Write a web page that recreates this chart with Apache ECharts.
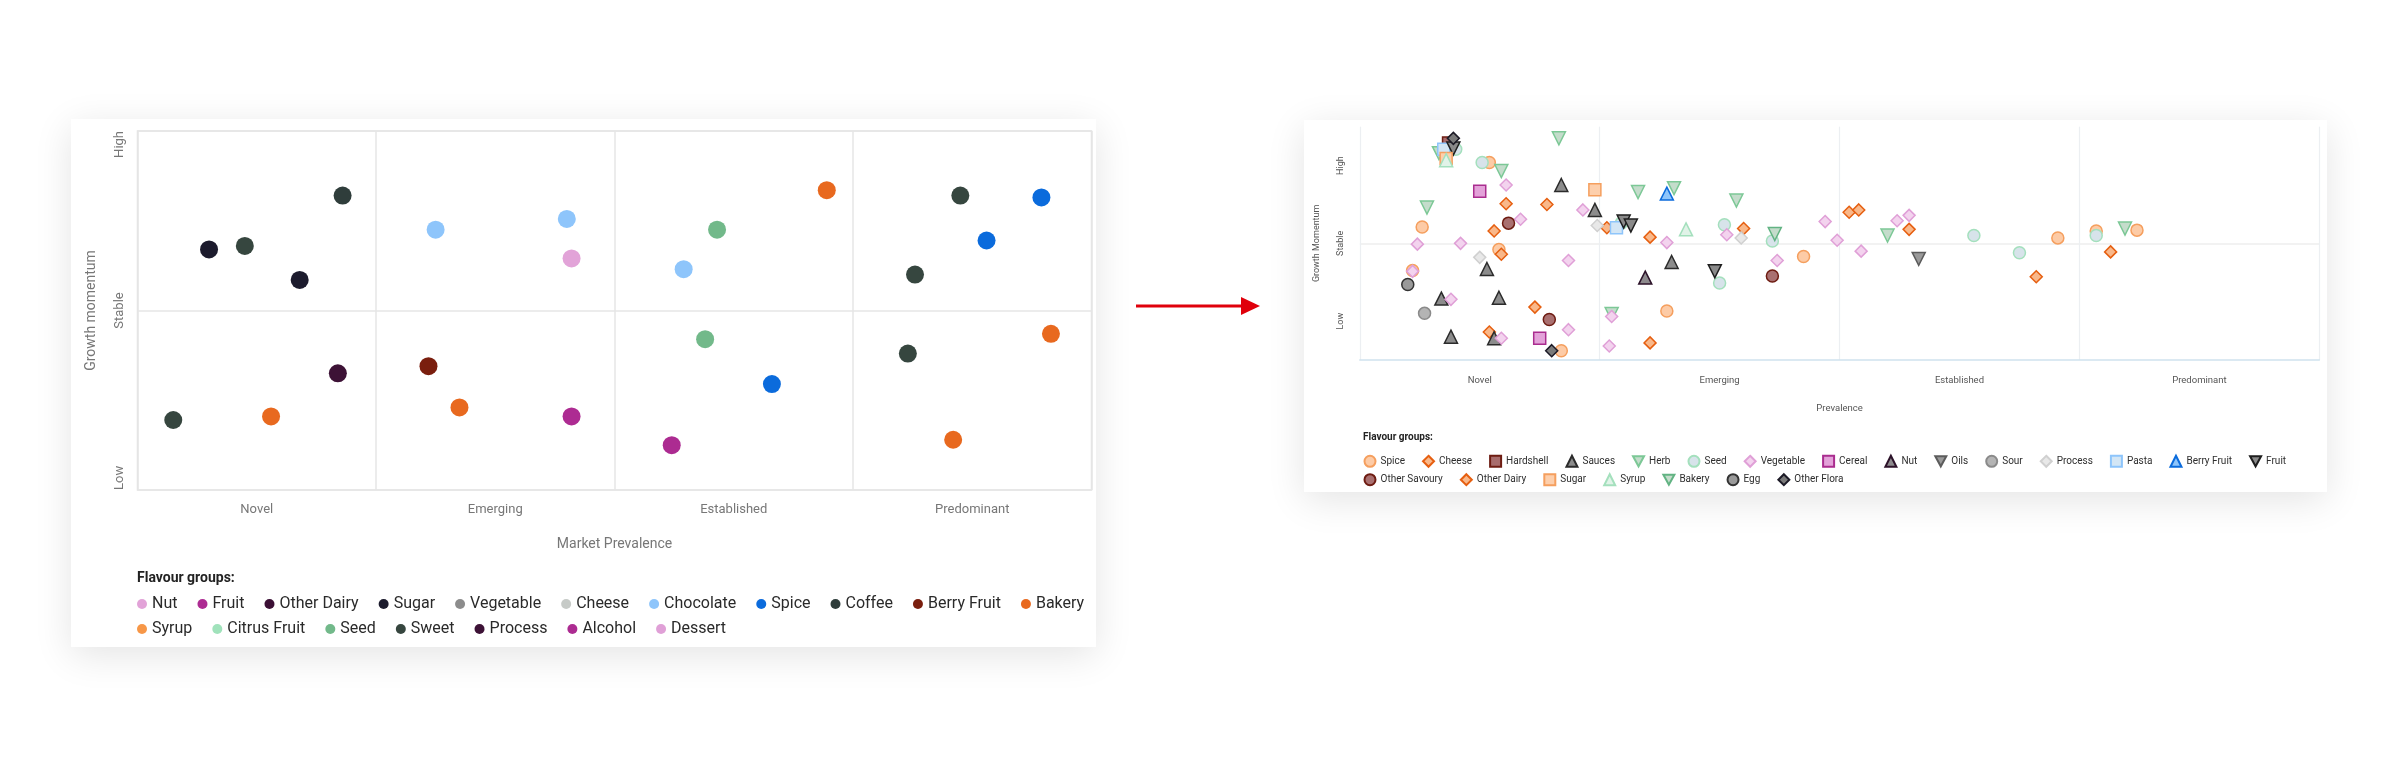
<!DOCTYPE html>
<html><head><meta charset="utf-8">
<script src="https://cdn.jsdelivr.net/npm/echarts@6/dist/echarts.min.js"></script>
<style>
html,body{margin:0;padding:0;background:#fff;width:2400px;height:768px;overflow:hidden;}
.card{position:absolute;background:#fff;box-shadow:0 8px 36px rgba(0,0,0,0.11);}
#cardL{left:71px;top:119px;width:1025px;height:528px;}
#cardR{left:1304px;top:120px;width:1023px;height:372px;}
#arrow{position:absolute;left:1130px;top:290px;}
</style></head><body>
<div id="cardL" class="card"></div>
<div id="cardR" class="card"></div>
<svg id="arrow" width="140" height="32"><line x1="6" y1="16" x2="114" y2="16" stroke="#e0000b" stroke-width="3"/><polygon points="111,7 130,16 111,25" fill="#e0000b"/></svg>
<script>
// ---------- shared tick labels ----------
const prevalenceCats = ['Novel','Emerging','Established','Predominant'];
const momentumTicks = ['Low','Stable','High'];

// ---------- LEFT chart data ----------
const leftGroups = ['Nut','Fruit','Other Dairy','Sugar','Vegetable','Cheese','Chocolate','Spice','Coffee','Berry Fruit','Bakery',
                    'Syrup','Citrus Fruit','Seed','Sweet','Process','Alcohol','Dessert'];
const leftLegendRow1 = leftGroups.slice(0, 11);
const leftLegendRow2 = leftGroups.slice(11);
const leftPtGroup = ['Coffee','Sugar','Sweet','Sugar','Process','Sweet','Bakery','Chocolate','Chocolate','Nut','Berry Fruit','Bakery','Fruit',
                     'Bakery','Seed','Chocolate','Sweet','Spice','Spice','Sweet','Seed','Spice','Alcohol','Sweet','Bakery','Bakery'];
const leftPtX = [0.86,0.30,0.45,0.68,0.84,0.15,0.56,1.25,1.80,1.82,1.22,1.35,1.82,
                 2.89,2.43,2.29,3.45,3.79,3.56,3.26,2.38,2.66,2.24,3.23,3.83,3.42];
const leftPtY = [1.64,1.34,1.36,1.17,0.65,0.39,0.41,1.45,1.51,1.29,0.69,0.46,0.41,
                 1.67,1.45,1.23,1.64,1.63,1.39,1.20,0.84,0.59,0.25,0.76,0.87,0.28];

// ---------- RIGHT chart data ----------
const rightGroups = ['Spice','Cheese','Hardshell','Sauces','Herb','Seed','Vegetable','Cereal','Nut','Oils','Sour','Process','Pasta','Berry Fruit','Fruit',
                     'Other Savoury','Other Dairy','Sugar','Syrup','Bakery','Egg','Other Flora'];
const rightLegendRow1 = rightGroups.slice(0, 15);
const rightLegendRow2 = rightGroups.slice(15);
const rightPtGroup = ['Other Flora','Hardshell','Fruit','Seed','Pasta','Herb','Sugar','Syrup','Herb','Seed',
  'Spice','Herb','Vegetable','Cereal','Sauces','Sugar','Herb','Berry Fruit','Herb','Herb',
  'Cheese','Cheese','Vegetable','Sauces','Other Savoury','Vegetable','Spice','Cheese','Process','Cheese',
  'Pasta','Fruit','Fruit','Seed','Syrup','Seed','Cheese','Vegetable','Process','Herb',
  'Bakery','Seed','Cheese','Vegetable','Vegetable','Vegetable','Spice','Cheese','Process','Vegetable',
  'Sauces','Spice','Vegetable','Egg','Sauces','Vegetable','Sauces','Sour','Other Dairy','Other Savoury',
  'Cheese','Sauces','Sauces','Vegetable','Cereal','Vegetable','Other Flora','Spice','Sauces','Nut',
  'Fruit','Seed','Other Savoury','Vegetable','Spice','Herb','Vegetable','Spice','Vegetable','Other Dairy',
  'Vegetable','Vegetable','Cheese','Cheese','Vegetable','Herb','Vegetable','Vegetable','Cheese','Oils',
  'Seed','Seed','Other Dairy','Spice','Spice','Seed','Herb','Spice','Cheese'];
const rightPtX = [0.39,0.37,0.39,0.40,0.35,0.33,0.36,0.36,0.83,0.51,
  0.54,0.59,0.61,0.50,0.84,0.98,1.16,1.28,1.31,0.28,
  0.61,0.78,0.93,0.98,0.62,0.67,0.26,0.56,0.99,1.03,
  1.07,1.10,1.13,1.09,1.36,1.52,1.60,1.53,1.59,1.57,
  1.73,1.72,1.21,1.28,0.24,0.42,0.58,0.59,0.50,0.87,
  0.53,0.22,0.22,0.20,0.34,0.38,0.58,0.27,0.73,0.79,
  0.54,0.38,0.56,0.59,0.75,0.87,0.80,0.84,1.30,1.19,
  1.48,1.50,1.72,1.74,1.85,1.05,1.05,1.28,1.04,1.21,
  1.94,1.99,2.04,2.08,2.09,2.20,2.24,2.29,2.29,2.33,
  2.56,2.75,2.82,2.91,3.07,3.07,3.19,3.24,3.13];
const rightPtY = [2.85,2.79,2.72,2.71,2.71,2.66,2.59,2.57,2.85,2.54,
  2.54,2.43,2.25,2.17,2.25,2.19,2.16,2.14,2.21,1.96,
  2.01,2.00,1.93,1.93,1.76,1.81,1.71,1.66,1.73,1.70,
  1.70,1.78,1.73,1.76,1.68,1.74,1.69,1.61,1.57,2.05,
  1.62,1.53,1.58,1.51,1.49,1.50,1.42,1.36,1.32,1.28,
  1.17,1.15,1.14,0.97,0.79,0.78,0.80,0.60,0.68,0.52,
  0.36,0.30,0.28,0.28,0.28,0.39,0.12,0.12,1.26,1.06,
  1.14,0.99,1.08,1.28,1.33,0.59,0.56,0.63,0.18,0.22,
  1.78,1.54,1.90,1.93,1.40,1.60,1.79,1.86,1.68,1.30,
  1.60,1.38,1.07,1.57,1.66,1.60,1.69,1.67,1.39];

// ---------- styles (not data) ----------
const leftColors = {
  'Nut':'#e2a3d8','Fruit':'#ad2b92','Other Dairy':'#3b0f35','Sugar':'#1c1b2d','Vegetable':'#8c8c8c','Cheese':'#c6cac7',
  'Chocolate':'#8ec5fb','Spice':'#0b6bdc','Coffee':'#2f3d3b','Berry Fruit':'#7a1e0e','Bakery':'#e8691f',
  'Syrup':'#f79747','Citrus Fruit':'#a0e2bb','Seed':'#72b98a','Sweet':'#36463f','Process':'#3d1236','Alcohol':'#ac2b91','Dessert':'#e0a0d7'
};
const INV = 'path://M0,0L12,0L6,11Z';
const rightStyles = {
  'Spice':['circle','#fdcba6','#f59f5e'],
  'Cheese':['diamond','#f9b88a','#e65f10'],
  'Hardshell':['rect','#a86c6c','#6e1c12'],
  'Sauces':['triangle','#8c8c8c','#2b2b2b'],
  'Herb':[INV,'#c4dccb','#7cc896'],
  'Seed':['circle','#d7e3ea','#a4e0bd'],
  'Vegetable':['diamond','#f3d3ee','#e0a0d7'],
  'Cereal':['rect','#e3a2d9','#aa2d8f'],
  'Nut':['triangle','#8d8a8d','#2c1229'],
  'Oils':[INV,'#9a9a9a','#5c5c5c'],
  'Sour':['circle','#b4b4b4','#8a8a8a'],
  'Process':['diamond','#e8e8e8','#d0d0d0'],
  'Pasta':['rect','#d3e6f5','#8ec5fb'],
  'Berry Fruit':['triangle','#8ec5fb','#0b6bdc'],
  'Fruit':[INV,'#8a8a8a','#1e1e1e'],
  'Other Savoury':['circle','#a97070','#6e1c12'],
  'Other Dairy':['diamond','#f9b88a','#e65f10'],
  'Sugar':['rect','#fdcfac','#f59f5e'],
  'Syrup':['triangle','#e1f3e8','#a4e0bd'],
  'Bakery':[INV,'#c4dccb','#62b383'],
  'Egg':['circle','#9a9a9a','#333333'],
  'Other Flora':['diamond','#7a7a7a','#1c1a26']
};

function buildSeries(groups, ptGroup, ptX, ptY, styleFn) {
  return groups.map(function (g) {
    const data = [];
    ptGroup.forEach(function (pg, i) { if (pg === g) data.push([ptX[i], ptY[i]]); });
    return Object.assign({ type: 'scatter', name: g, data: data, xAxisIndex: 0, yAxisIndex: 0 }, styleFn(g));
  });
}

const FONT = 'Roboto';

// ---------- LEFT chart ----------
const chartL = echarts.init(document.getElementById('cardL'), null, { renderer: 'canvas' });
const legendLBase = { orient: 'horizontal', padding: 0, icon: 'circle', itemWidth: 10, itemHeight: 10, itemGap: 20,
  textStyle: { fontSize: 16, color: '#2a2a2a', fontFamily: FONT } };
chartL.setOption({
  animation: false,
  textStyle: { fontFamily: FONT },
  title: { text: 'Flavour groups:', left: 66, top: 452, padding: 0,
    textStyle: { fontSize: 14, fontWeight: 'bold', color: '#222', fontFamily: FONT } },
  grid: { left: 66.5, top: 12, width: 954, height: 359, show: true, borderColor: '#e3e3e3', borderWidth: 1.5 },
  xAxis: [
    { type: 'value', min: 0, max: 4, interval: 1, position: 'bottom',
      axisLabel: { show: false }, axisTick: { show: false }, axisLine: { show: false },
      splitLine: { show: true, lineStyle: { color: '#e6e6e6', width: 1.5 } } },
    { type: 'category', data: prevalenceCats, position: 'bottom', boundaryGap: true,
      axisLine: { show: false }, axisTick: { show: false }, splitLine: { show: false },
      axisLabel: { margin: 13, fontSize: 13, color: '#777' },
      name: 'Market Prevalence', nameLocation: 'middle', nameGap: 47,
      nameTextStyle: { fontSize: 14, color: '#777' } }
  ],
  yAxis: [
    { type: 'value', min: 0, max: 2, interval: 1, position: 'left',
      axisLine: { show: false }, axisTick: { show: false },
      splitLine: { show: true, lineStyle: { color: '#e6e6e6', width: 1.5 } },
      axisLabel: { rotate: 90, margin: 11.5, fontSize: 13, color: '#777',
        formatter: function (v) { return momentumTicks[Math.round(v)]; },
        alignMinLabel: 'left', alignMaxLabel: 'right' },
      name: 'Growth momentum', nameLocation: 'middle', nameGap: 39,
      nameTextStyle: { fontSize: 14, color: '#777' } }
  ],
  legend: [
    Object.assign({ data: leftLegendRow1, left: 66, top: 477 }, legendLBase),
    Object.assign({ data: leftLegendRow2, left: 66, top: 502 }, legendLBase)
  ],
  series: buildSeries(leftGroups, leftPtGroup, leftPtX, leftPtY, function (g) {
    return { symbol: 'circle', symbolSize: 18, itemStyle: { color: leftColors[g], opacity: 1 } };
  })
});

// ---------- RIGHT chart ----------
const chartR = echarts.init(document.getElementById('cardR'), null, { renderer: 'canvas' });
const legendRBase = { orient: 'horizontal', padding: 0, itemWidth: 11, itemHeight: 11, itemGap: 17,
  textStyle: { fontSize: 10, color: '#2e2e2e', fontFamily: FONT } };
chartR.setOption({
  animation: false,
  textStyle: { fontFamily: FONT },
  title: { text: 'Flavour groups:', left: 59, top: 312.5, padding: 0,
    textStyle: { fontSize: 10, fontWeight: 'bold', color: '#222', fontFamily: FONT } },
  grid: { left: 53.3, top: 6.7, width: 962, height: 233.3 },
  xAxis: [
    { type: 'value', min: 0, max: 4, interval: 1, position: 'bottom',
      axisLabel: { show: false }, axisTick: { show: false },
      axisLine: { show: true, onZero: false, lineStyle: { color: '#cfe2ee', width: 1.5 } },
      splitLine: { show: true, lineStyle: { color: '#eceff2', width: 1.2 } } },
    { type: 'category', data: prevalenceCats, position: 'bottom', boundaryGap: true,
      axisLine: { show: false }, axisTick: { show: false }, splitLine: { show: false },
      axisLabel: { margin: 15.5, fontSize: 9.5, color: '#555' },
      name: 'Prevalence', nameLocation: 'middle', nameGap: 44,
      nameTextStyle: { fontSize: 9.5, color: '#555' } }
  ],
  yAxis: [
    { type: 'value', min: 0, max: 3, interval: 1.5, position: 'left',
      axisLabel: { show: false }, axisTick: { show: false }, axisLine: { show: false },
      splitLine: { show: true, showMinLine: false, showMaxLine: false, lineStyle: { color: '#eeeeee', width: 1.5 } } },
    { type: 'category', data: momentumTicks, position: 'left', boundaryGap: true,
      axisLine: { show: false }, axisTick: { show: false }, splitLine: { show: false },
      axisLabel: { rotate: 90, margin: 14.5, fontSize: 9, color: '#555' },
      name: 'Growth Momentum', nameLocation: 'middle', nameGap: 38.8,
      nameTextStyle: { fontSize: 9, color: '#555' } }
  ],
  legend: [
    Object.assign({ data: rightLegendRow1, left: 59.5, top: 334.8 }, legendRBase),
    Object.assign({ data: rightLegendRow2, left: 59.5, top: 353.2 }, legendRBase)
  ],
  series: buildSeries(rightGroups, rightPtGroup, rightPtX, rightPtY, function (g) {
    const s = rightStyles[g];
    return { symbol: s[0], symbolSize: s[0] === 'triangle' || s[0] === INV ? 13 : 12,
      itemStyle: { color: s[1], borderColor: s[2], borderWidth: 1.5, opacity: 1 } };
  })
});
</script>
</body></html>
